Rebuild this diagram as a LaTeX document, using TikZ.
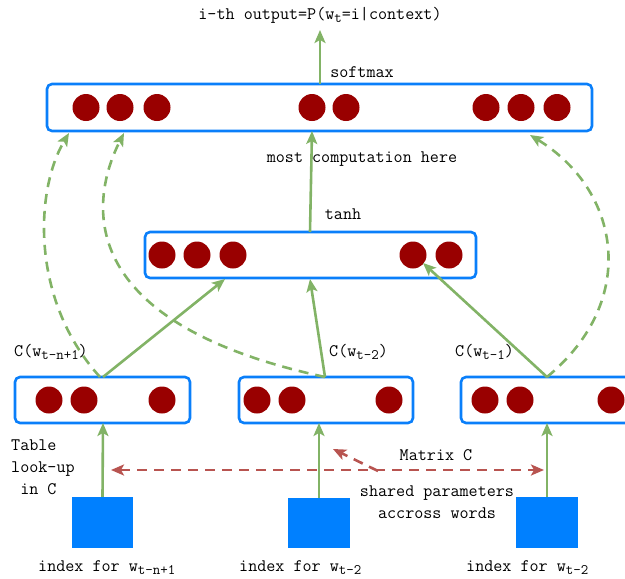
\documentclass[tikz,border=0pt]{standalone}
\usepackage{fontspec}
\usetikzlibrary{arrows.meta,calc}
\definecolor{boxblue}{HTML}{0A7FFA}
\definecolor{dotred}{HTML}{990000}
\definecolor{linkgreen}{HTML}{82B366}
\definecolor{sharered}{HTML}{B85450}
\definecolor{idxblue}{HTML}{0080FF}
% lowered, smaller index text
\newcommand{\lowsub}[1]{\raisebox{-0.42ex}{\fontsize{14.5}{14.5}\selectfont #1}}
\begin{document}
\begin{tikzpicture}[x=1pt,y=-1pt,
  every node/.style={font=\ttfamily\fontsize{17.6}{22}\selectfont, inner sep=0pt},
  layer/.style={draw=boxblue, line width=2.6pt, rounded corners=5pt, fill=white, inner sep=0pt},
  unit/.style={circle, fill=dotred, minimum size=27pt, inner sep=0pt},
  index/.style={fill=idxblue, inner sep=0pt},
  feed/.style={draw=linkgreen, line width=2.6pt, -{Stealth[length=13pt,width=11pt,inset=3pt]}},
  direct/.style={feed, dash pattern=on 10pt off 7pt},
  share/.style={draw=sharered, line width=2.6pt, dash pattern=on 10pt off 7pt}]
\clip (0,0) rectangle (625,579);
\useasboundingbox (0,0) rectangle (625,579);

% output layer
\node[layer, minimum width=545pt, minimum height=47pt] (out) at (319.5,107.5) {};
\foreach \x [count=\i] in {86,120,157,312,346,486,521,557}
  \node[unit] (o\i) at (\x,107.5) {};

% hidden layer
\node[layer, minimum width=331pt, minimum height=46pt] (hid) at (310.5,255) {};
\foreach \x [count=\i] in {162,197,233,413,449}
  \node[unit] (h\i) at (\x,255) {};

% word feature vectors
\node[layer, minimum width=175pt, minimum height=46pt] (fa) at (102.5,400) {};
\node[layer, minimum width=174pt, minimum height=46pt] (fb) at (326,400) {};
\node[layer, minimum width=175pt, minimum height=46pt] (fc) at (548.5,400) {};
\foreach \x [count=\i] in {49,84,162}  \node[unit] (a\i) at (\x,400) {};
\foreach \x [count=\i] in {257,292,389} \node[unit] (b\i) at (\x,400) {};
\foreach \x [count=\i] in {485,520,611} \node[unit] (c\i) at (\x,400) {};

% word indices
\node[index, minimum width=61pt, minimum height=51pt] (ia) at (102.5,522.5) {};
\node[index, minimum width=62pt, minimum height=50pt] (ib) at (319,523) {};
\node[index, minimum width=62pt, minimum height=51pt] (ic) at (547,522.5) {};

% connector end points
\coordinate (result) at (320,30);
\coordinate (outTop) at (320,84);
\coordinate (outIn) at (312,131);
\coordinate (hidTop) at (310,232);
\coordinate (hidInA) at (225,279);
\coordinate (hidInB) at (310,279);
\coordinate (hidInC) at (423,263);
\coordinate (faTop) at (103,377);
\coordinate (fbTop) at (325,377);
\coordinate (fcTop) at (547,377);
\coordinate (faTopD) at (100,377);
\coordinate (outInA) at (69,133);
\coordinate (outInB) at (124,133);
\coordinate (outInC) at (530,135);
\coordinate (faBot) at (103,423);
\coordinate (fbBot) at (319,423);
\coordinate (fcBot) at (547,423);
\coordinate (shareL) at (111,470);
\coordinate (shareR) at (544,470);
\coordinate (shareMid) at (378,471);
\coordinate (shareUp) at (333,449);

% solid green connectors
\draw[feed] (outTop) -- (result);
\draw[feed] (hidTop) -- (outIn);
\draw[feed] (faTop) -- (hidInA);
\draw[feed] (fbTop) -- (hidInB);
\draw[feed] (fcTop) -- (hidInC);
\draw[feed] (ia.north) -- (faBot);
\draw[feed] (ib.north) -- (fbBot);
\draw[feed] (ic.north) -- (fcBot);

% direct (dashed) connections to the output layer
\draw[direct] (faTopD) .. controls (30,300) and (35,190) .. (outInA);
\draw[direct] (fbTop) .. controls (60,320) and (95,190) .. (outInB);
\draw[direct] (fcTop) .. controls (640,300) and (620,190) .. (outInC);

% shared matrix C
\draw[share, {Stealth[length=13pt,width=11pt,inset=3pt]}-{Stealth[length=13pt,width=11pt,inset=3pt]}] (shareL) -- (shareR);
\draw[share, -{Stealth[length=13pt,width=11pt,inset=3pt]}] (shareMid) -- (shareUp);

% labels
\node (lblOut) at (320,15) {i-th output=P(w\lowsub{t}=i|context)};
\node (lblSoft) at (362,72) {softmax};
\node (lblMost) at (362,159) {most computation here};
\node (lblTanh) at (343,214) {tanh};
\node[anchor=west] (lblCa) at (14,352) {C(w\lowsub{t-n+1})};
\node[anchor=west] (lblCb) at (329,352) {C(w\lowsub{t-2})};
\node[anchor=west] (lblCc) at (455,352) {C(w\lowsub{t-1})};
\node[anchor=west, align=left] (lblTable) at (11,467) {Table\\look-up\\\ in C};
\node (lblMatrix) at (436,455) {Matrix C};
\node[align=center] (lblShared) at (437,502) {shared parameters\\accross words};
\node[anchor=west] (lblIa) at (38,568) {index for w\lowsub{t-n+1}};
\node[anchor=west] (lblIb) at (239,568) {index for w\lowsub{t-2}};
\node[anchor=west] (lblIc) at (466,568) {index for w\lowsub{t-2}};
\end{tikzpicture}
\end{document}
